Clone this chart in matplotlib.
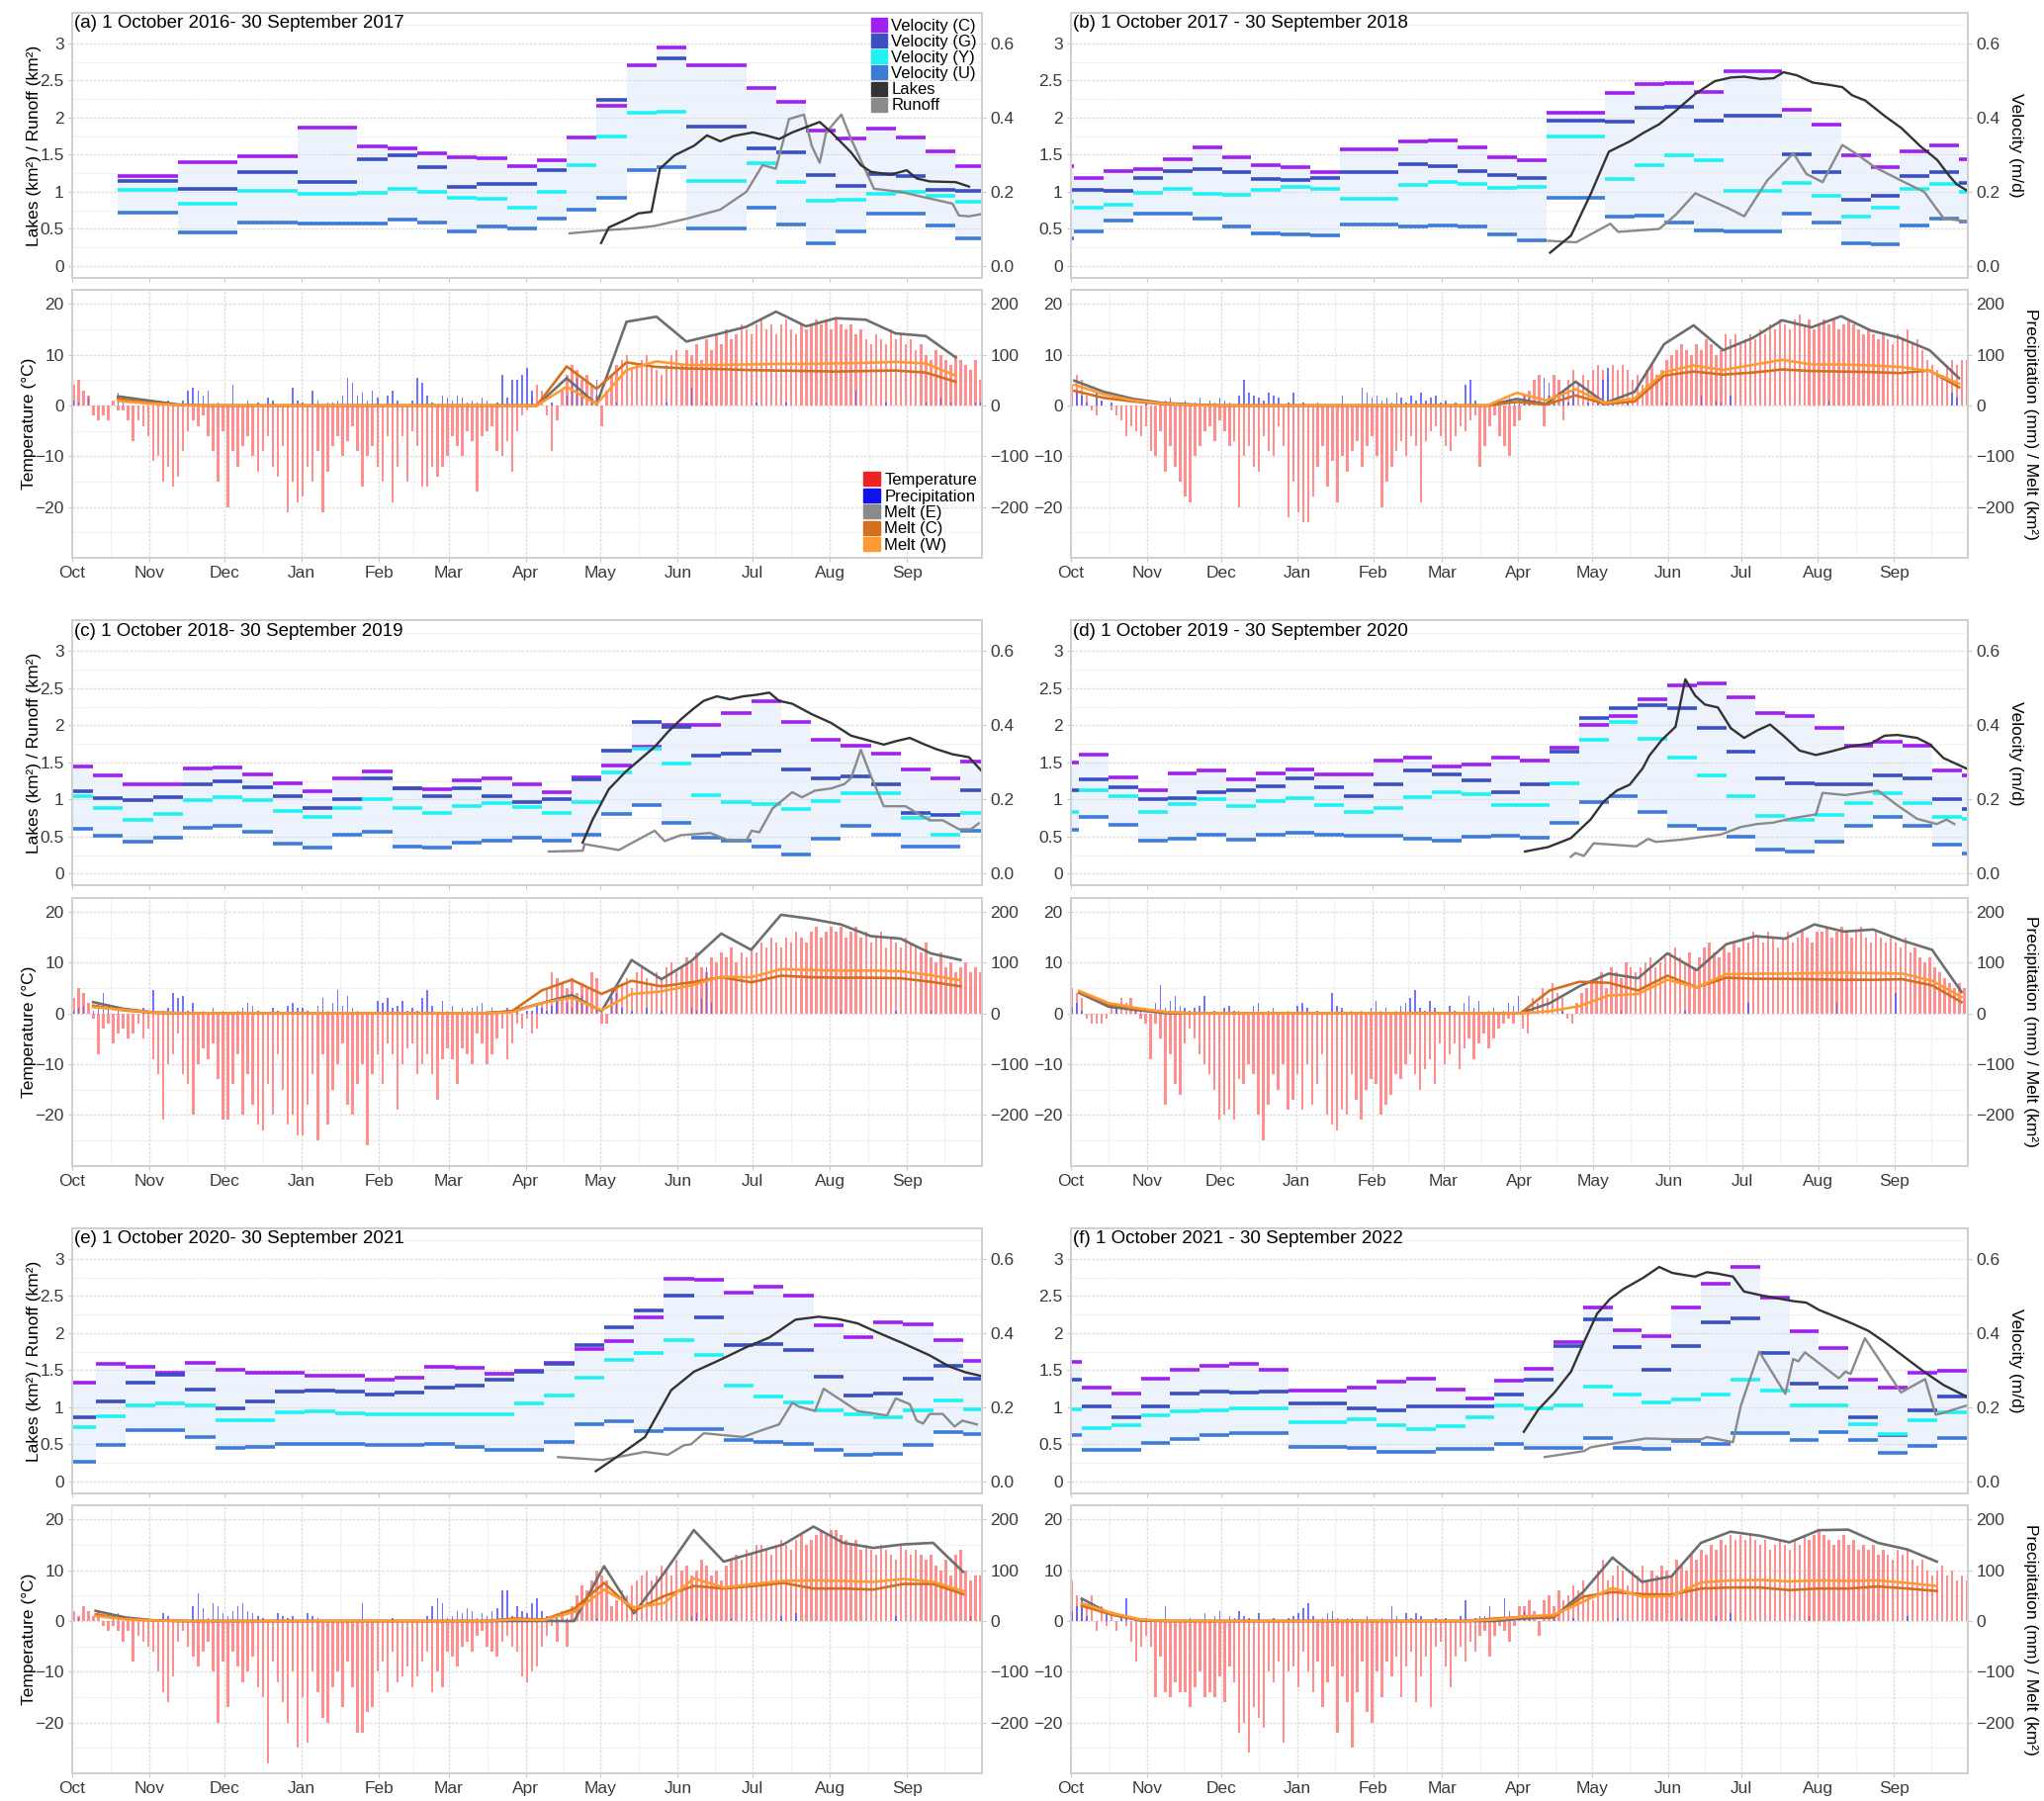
import numpy as np
import matplotlib.pyplot as plt
from matplotlib.patches import Patch

plt.rcParams['font.family'] = ['Liberation Sans', 'DejaVu Sans']

# ---------------------------------------------------------------- common
months = ["Oct", "Nov", "Dec", "Jan", "Feb", "Mar", "Apr", "May", "Jun", "Jul", "Aug", "Sep"]
month_len = [31, 30, 31, 31, 28, 31, 30, 31, 30, 31, 31, 30]
month_len_leap = [31, 30, 31, 31, 29, 31, 30, 31, 30, 31, 31, 30]

titles = ["(a) 1 October 2016- 30 September 2017",
          "(b) 1 October 2017 - 30 September 2018",
          "(c) 1 October 2018- 30 September 2019",
          "(d) 1 October 2019 - 30 September 2020",
          "(e) 1 October 2020- 30 September 2021",
          "(f) 1 October 2021 - 30 September 2022"]

# velocity (m/d) per 12-day Sentinel-1 pair, first slot starts at vstart (day since 1 Oct)
vstart = [18.4, -10.6, -3.6, -8.6, -2.6, -7.6]
# melt (km2) at 12-day grid points, first at mstart
mstart = [18.4, 1.4, 8.4, 3.4, 9.4, 4.4]

nan = np.nan

# ---------------------------------------------------------------- (a)
vel_c_a = [.242, .242, .280, .280, .296, .296, .372, .372, .322, .318, .304, .294, .290, .268, .286,
           .346, .432, .540, .588, .540, .540, .480, .442, .366, .344, .370, .346, .310, .268]
vel_g_a = [.230, .230, .208, .208, .254, .254, .226, .226, .288, .298, .266, .214, .220, .222, .258,
           nan, .448, nan, .560, .376, .376, .318, .306, .244, .216, .248, .242, .204, .202]
vel_y_a = [.206, .206, .168, .168, .202, .202, .194, .194, .198, .208, .200, .184, .182, .158, .200,
           .272, .348, .414, .416, .230, .230, .276, .226, .176, .178, .194, .200, .188, .172]
vel_u_a = [.144, .144, .090, .090, .116, .116, .114, .114, .114, .124, .116, .092, .106, .100, .128,
           .152, .184, .258, .266, .100, .100, .158, .112, .060, .094, .140, .142, .108, .074]
lakes_day_a = [212.2, 215.3, 223.2, 227.2, 232.4, 235.8, 241.6, 249.5, 254.7, 260, 265.2, 273.1, 278.4,
               283.6, 288.9, 299.9, 304.6, 312.5, 316.4, 320.4, 328.3, 334.8, 338.8, 344, 354.5, 359.8]
lakes_a = [0.31, 0.52, 0.64, 0.71, 0.73, 1.31, 1.49, 1.62, 1.76, 1.68, 1.75, 1.80, 1.76,
           1.71, 1.80, 1.94, 1.80, 1.53, 1.36, 1.27, 1.23, 1.29, 1.18, 1.14, 1.13, 1.07]
runoff_day_a = [199.6, 212.7, 225.8, 233.7, 246.8, 260, 270.5, 277, 282.3, 287.6, 293.6, 296.7,
                299.9, 302.5, 308.6, 312.5, 321.7, 332.2, 344, 353.2, 355.8, 359.8, 365]
runoff_a = [0.44, 0.48, 0.51, 0.54, 0.64, 0.76, 1.00, 1.36, 1.31, 1.98, 2.04, 1.62,
            1.39, 1.80, 2.04, 1.71, 1.04, 1.00, 0.91, 0.84, 0.68, 0.67, 0.70]
melt_e_a = [18, 10, 2, 0, 0, 0, 0, 0, 0, 0, 0, 0, 0, 0, 0, 54, 2, 165, 175, 126, 140, 155, 185, 156,
            172, 169, 142, 137, 95]
melt_c_a = [13, 6, 1, 0, 0, 0, 0, 0, 0, 0, 0, 0, 0, 0, 0, 77, 33, 85, 76, 73, 72, 70, 69, 68,
            67, 68, 69, 65, 47]
melt_w_a = [9, 4, 1, 0, 0, 0, 0, 0, 0, 0, 0, 0, 0, 0, 0, 37, 3, 70, 87, 80, 80, 81, 82, 82,
            83, 84, 86, 83, 59]
temp_a = """
4 5 3 2 -2 -3 -2 -3 1 -1 -1 -3 -7 -3 -4 -6
-11 -10 -15 -12 -16 -14 -9 -5 -3 -4 -2 -6 -9 -15 -5
-20 -9 -12 -8 -6 -10 -13 -9 -6 -12 -14 -8 -21 -15 -19
-18 -12 -15 -9 -21 -13 -8 -6 -10 -7 -4 -9 -16 -10 -8 -12
-15 -6 -19 -12 -6 -15 -5 -8 -16 -16 -12 -14 -12 -10
-6 -8 -10 -5 -7 -17 -6 -5 -4 -9 -10 -7 -13 -5 -2 -1
2 4 3 -2 -9 -3 3 6 8 7 5 6 4 2 -4
3 6 8 9 10 7 8 9 10 8 7 6 8 10 11
8 11 10 12 9 13 11 14 12 15 13 14 16 15 14 16
17 15 16 14 16 17 15 14 16 15 16 17 16 17 15
17 16 15 16 14 15 13 12 14 13 12 15 13 14 12 13
11 12 10 9 11 10 9 8 10 9 8 7 9 5
"""
precip_a = """
10 5 0 15 0 0 0 0 0 25 20 0 0 0 0 0
0 5 0 10 5 0 10 30 35 30 20 30 0 5 0
0 40 0 0 10 0 5 0 15 10 0 0 0 35 10
5 0 30 10 0 5 5 10 20 55 45 20 25 10 30 15
0 20 30 10 0 0 10 55 45 20 5 0 20 15
10 20 15 5 10 5 15 10 0 5 60 15 50 50 60 75
30 0 0 0 5 0 0 20 45 55 30 0 5 50 0
0 0 5 0 0 0 0 0 0 0 0 0 5 0 0
0 0 35 0 0 5 0 0 0 0 0 0 0 0 0 5
0 0 0 0 0 5 0 0 0 0 0 0 0 0 0
0 0 0 0 30 0 0 0 0 0 5 0 0 0 0 0
0 0 5 0 0 15 0 5 0 0 0 0 5 5
"""

# ---------------------------------------------------------------- (b)
vel_c_b = [.268, .238, .256, .262, .288, .320, .292, .272, .266, .254, .314, .314, .336, .338, .320, .292,
           .284, .414, .414, .466, .490, .494, .470, .526, .526, .420, .382, .298, .266, .310, .324, .288]
vel_g_b = [.204, .204, .202, .236, .256, .262, .252, .234, .232, .236, .254, .254, .274, .268, .256, .244,
           .238, .392, .392, .388, .426, .430, .392, .406, .406, .302, .254, .178, .190, .242, .254, .224]
vel_y_b = [.174, .156, .164, .198, .208, .194, .192, .204, .212, .208, .180, .180, .218, .226, .220, .210,
           .214, .348, .348, .234, .272, .298, .286, .202, .202, .224, .188, .134, .156, .208, .220, .200]
vel_u_b = [.074, .092, .122, .140, .142, .128, .106, .088, .084, .082, .112, .112, .106, .108, .106, .086,
           .070, .184, .184, .134, .136, .116, .096, .092, .092, .142, .116, .060, .058, .108, .128, .120]
lakes_day_b = [195, 203.5, 211.5, 218.9, 227.5, 232.8, 239.4, 246.1, 254.1, 262, 268.7, 274, 280.7, 286,
               290, 295.3, 302, 308.6, 313.9, 317.9, 323.2, 331.2, 337.9, 345.8, 352.5, 357.8, 360.5, 365]
lakes_b = [0.18, 0.41, 0.97, 1.54, 1.68, 1.79, 1.91, 2.09, 2.32, 2.49, 2.54, 2.55, 2.52, 2.53,
           2.61, 2.57, 2.47, 2.44, 2.41, 2.30, 2.23, 2.02, 1.86, 1.61, 1.43, 1.20, 1.10, 1.01]
runoff_day_b = [194.2, 205.6, 219.5, 222.7, 239.4, 246.1, 254.1, 267.4, 274, 283.3, 294, 299.3,
                305.9, 313.9, 319.2, 327.2, 337.9, 347.2, 355.2, 365]
runoff_b = [0.34, 0.32, 0.57, 0.46, 0.50, 0.69, 0.98, 0.78, 0.67, 1.15, 1.52, 1.24,
            1.13, 1.63, 1.52, 1.33, 1.15, 1.00, 0.64, 0.60]
melt_e_b = [49, 27, 13, 5, 2, 0, 0, 0, 0, 0, 0, 0, 0, 0, 0, 13, 3, 47, 5, 27, 121, 158, 109, 133,
            168, 154, 176, 148, 133, 109, 54]
melt_c_b = [29, 15, 8, 3, 1, 0, 0, 0, 0, 0, 0, 0, 0, 0, 0, 7, 2, 20, 3, 8, 59, 67, 61, 65,
            71, 68, 67, 66, 64, 69, 36]
melt_w_b = [41, 22, 10, 4, 1, 0, 0, 0, 0, 0, 0, 0, 0, 0, 0, 25, 10, 32, 5, 14, 66, 79, 70, 80,
            90, 81, 81, 79, 76, 68, 43]
temp_b = """
4 6 5 2 -1 -2 1 0 -1 -2 -3 -6 -4 -5 -6 -4
-9 -10 -5 -13 -8 -12 -15 -18 -19 -10 -8 -5 -4 -7 -3
-5 -8 -7 -20 -10 -8 -12 -13 -6 -9 -10 -4 -8 -22 -15
-21 -23 -23 -18 -12 -8 -16 -11 -19 -10 -13 -9 -7 -12 -8 -6
-10 -20 -15 -12 -9 -7 -10 -6 -8 -19 -7 -5 -4 -6
-8 -9 -6 -4 -5 -3 -2 -12 -8 -4 -2 -6 -8 -10 -4 -3
2 3 5 6 -4 2 6 5 -3 5 7 4 6 5 7
8 7 6 8 7 8 7 5 6 4 7 8 6 7 9
10 11 12 11 10 12 11 13 12 10 11 14 13 14 12 13
14 13 15 14 16 15 17 16 15 17 18 16 17 15 16
17 16 17 15 16 17 16 15 14 15 14 13 14 13 12 14
13 15 12 13 11 9 8 7 6 8 9 8 9 9
"""
precip_b = """
0 30 20 5 0 25 10 0 5 0 0 0 0 0 0 5
0 0 5 10 15 0 5 10 0 5 15 0 10 5 15
10 5 0 20 50 25 20 15 10 25 20 15 0 5 25
0 5 0 0 5 0 0 0 0 20 0 0 0 35 25 15
20 10 15 5 25 15 5 20 10 25 10 15 20 5
10 0 5 0 40 50 10 0 0 0 0 10 0 15 5 10
20 15 0 5 55 45 10 0 30 5 30 0 0 5 0
10 50 75 5 0 0 5 0 0 0 0 0 0 0 5
0 0 0 0 0 0 20 0 0 10 5 0 20 0 0 0
0 0 0 0 0 0 0 0 0 0 0 0 0 0 0
0 10 0 0 0 0 0 0 0 0 0 0 0 0 0 0
0 0 0 0 0 0 0 0 0 0 25 15 0 0
"""

# ---------------------------------------------------------------- (c)
vel_c_c = [.288, .266, .240, .242, .284, .286, .268, .244, .222, .258, .276, .230, .228, .252, .256, .240,
           .220, .260, .292, .342, .402, .402, .432, .464, .410, .362, .344, .324, .282, .258, .302]
vel_g_c = [.222, .204, .198, .206, .240, .248, .232, .210, .176, .200, .256, .230, .210, .230, .210, .192,
           .200, .254, .332, .410, .396, .318, .324, .332, .282, .256, .262, .240, .164, .158, .224]
vel_y_c = [.208, .178, .146, .160, .198, .206, .198, .168, .152, .176, .200, .176, .164, .182, .190, .180,
           .164, .192, .274, .336, .296, .212, .194, .188, .174, .196, .218, .218, .150, .106, .164]
vel_u_c = [.122, .102, .086, .098, .124, .130, .114, .080, .070, .104, .112, .074, .070, .084, .090, .098,
           .090, .106, .162, .184, .138, .096, .090, .074, .052, .094, .130, .106, .074, .074, .116]
lakes_day_c = [204.8, 208.8, 215.3, 221.9, 228.5, 233.7, 239, 244.2, 249.5, 253.4, 258.7, 263.9, 269.2,
               274.4, 279.7, 283.6, 288.9, 296.7, 304.6, 312.5, 319.1, 325.6, 330.9, 336.1, 341.4,
               346.6, 353.2, 359.8, 365]
lakes_c = [0.42, 0.73, 1.14, 1.37, 1.56, 1.71, 1.91, 2.08, 2.23, 2.33, 2.39, 2.35, 2.39,
           2.41, 2.44, 2.33, 2.29, 2.15, 2.03, 1.86, 1.80, 1.74, 1.79, 1.83, 1.75,
           1.68, 1.61, 1.57, 1.38]
runoff_day_c = [191.2, 204.8, 205.6, 219.3, 233.7, 237.7, 244.2, 256, 262.6, 270.5, 272.6, 275.7, 281,
                288.9, 292.8, 298, 304.6, 309.9, 312.5, 316.4, 320.4, 325.6, 334.3, 344, 349.3,
                355.8, 360.6, 363.7]
runoff_c = [0.30, 0.31, 0.40, 0.32, 0.58, 0.44, 0.52, 0.55, 0.46, 0.45, 0.58, 0.56, 0.88,
            1.10, 1.03, 1.12, 1.15, 1.21, 1.29, 1.67, 1.32, 0.91, 0.91, 0.72, 0.72,
            0.60, 0.60, 0.68]
melt_e_c = [22, 9, 2, 0, 0, 0, 0, 0, 0, 0, 0, 0, 0, 0, 4, 20, 36, 4, 105, 67, 103, 157, 125, 194,
            186, 175, 152, 147, 118, 105]
melt_c_c = [15, 6, 1, 0, 0, 0, 0, 0, 0, 0, 0, 0, 0, 0, 4, 45, 66, 38, 64, 53, 61, 71, 61, 74,
            71, 70, 70, 69, 62, 53]
melt_w_c = [12, 7, 2, 0, 0, 0, 0, 0, 0, 0, 0, 0, 0, 0, 2, 20, 31, 6, 38, 43, 55, 72, 71, 87,
            85, 84, 84, 83, 75, 65]
temp_c = """
3 5 4 2 -1 -8 -3 -2 -6 -4 -3 -5 -4 -2 -5 -3
-9 -12 -21 -10 -8 -4 -12 -14 -20 -10 -7 -9 -6 -13 -21
-21 -14 -8 -20 -12 -18 -22 -23 -14 -20 -8 -15 -22 -20 -24
-24 -18 -12 -25 -8 -22 -15 -10 -6 -18 -20 -14 -10 -26 -12 -8
-14 -6 -8 -19 -10 -7 -6 -12 -10 -8 -12 -17 -9 -7
-9 -14 -7 -8 -10 -4 -6 -10 -8 -5 -3 -9 -6 -2 -3 -1
-4 -3 2 5 8 7 6 5 7 4 6 5 8 7 -2
-2 3 5 6 7 5 8 9 7 6 8 7 9 10 8
9 11 10 12 9 8 11 10 12 11 13 10 12 11 13 12
14 13 15 14 13 15 14 16 15 14 16 17 15 16 17
16 17 15 16 17 15 16 14 15 16 13 15 14 13 15 14
13 12 14 11 10 12 9 10 8 9 10 8 9 8
"""
precip_c = """
5 10 15 0 5 20 40 10 0 5 0 0 0 0 10 0
45 0 5 10 40 30 35 5 20 0 5 0 10 0 5
0 0 5 10 20 15 5 0 0 10 5 0 15 20 10
10 5 0 15 30 5 20 45 15 35 10 5 0 0 0 25
20 30 10 15 25 5 10 5 30 45 15 0 25 5
15 0 10 5 10 15 20 5 10 0 5 10 0 5 0 5
5 20 10 5 15 30 0 20 10 25 35 15 0 10 5
0 50 40 10 0 5 0 0 10 0 0 5 0 0 0
0 0 10 5 30 90 20 0 5 0 0 0 0 0 0 0
0 0 0 0 0 0 0 0 0 0 0 0 0 0 0
0 5 0 0 0 0 0 0 0 0 0 0 5 0 0 0
0 0 0 5 0 0 0 0 0 0 0 0 0 0
"""

# ---------------------------------------------------------------- (d)
vel_c_d = [.300, .322, .260, .226, .270, .278, .254, .270, .282, .268, .268, .304, .312, .288, .294, .312,
           .304, .340, .400, .426, .470, .508, .512, .476, .432, .426, .392, .344, .356, .346, .278, .266]
vel_g_d = [.224, .254, .234, .200, .204, .220, .224, .236, .258, .232, .208, .240, .278, .268, .252, .220,
           .240, .330, .420, .446, .454, .446, .394, .330, .256, .244, .242, .242, .266, .258, .200, .174]
vel_y_d = [.166, .226, .208, .166, .188, .200, .182, .196, .204, .186, .166, .176, .206, .220, .214, .184,
           .186, .244, .360, .408, .364, .312, .264, .210, .156, .146, .158, .190, .216, .190, .152, .148]
vel_u_d = [.118, .154, .132, .088, .094, .104, .092, .106, .110, .104, .102, .102, .094, .090, .100, .102,
           .098, .136, .194, .208, .166, .128, .122, .100, .066, .060, .086, .128, .152, .128, .078, .054]
lakes_day_d = [185.3, 194.7, 204, 212, 217.3, 222.7, 228, 233.3, 236, 241.3, 246.7, 250.7, 254.7, 258.7,
               264, 269.3, 274.7, 280, 285.3, 290.7, 297.3, 304, 309.3, 317.3, 326.7, 332, 337.3,
               345.3, 350.7, 356, 365.9]
lakes_d = [0.30, 0.36, 0.48, 0.73, 0.97, 1.12, 1.20, 1.42, 1.59, 1.81, 1.98, 2.62, 2.40, 2.28,
           2.24, 1.96, 1.83, 1.93, 2.01, 1.86, 1.66, 1.60, 1.64, 1.71, 1.76, 1.86, 1.87,
           1.83, 1.74, 1.56, 1.41]
runoff_day_d = [204, 205.9, 209.3, 213.3, 230.7, 235.5, 238.7, 249.3, 265.3, 273.3, 280, 286.7, 294.7,
                304, 306.7, 316, 329.3, 337.3, 345.3, 353.3, 357.3, 360.5]
runoff_d = [0.23, 0.28, 0.24, 0.41, 0.37, 0.47, 0.43, 0.46, 0.53, 0.63, 0.67, 0.69, 0.75,
            0.80, 1.09, 1.06, 1.12, 0.92, 0.74, 0.67, 0.73, 0.67]
melt_e_d = [40, 13, 6, 0, 0, 0, 0, 0, 0, 0, 0, 0, 0, 0, 0, 0, 20, 53, 78, 69, 118, 85, 136, 152,
            147, 175, 161, 165, 143, 125, 42]
melt_c_d = [42, 18, 8, 2, 0, 0, 0, 0, 0, 0, 0, 0, 0, 0, 0, 0, 45, 62, 60, 45, 74, 51, 70, 68,
            68, 67, 66, 66, 67, 55, 22]
melt_w_d = [44, 20, 10, 2, 0, 0, 0, 0, 0, 0, 0, 0, 0, 0, 0, 0, 4, 14, 35, 38, 66, 51, 77, 78,
            78, 79, 80, 79, 78, 64, 32]
temp_d = """
5 4 3 -1 -2 -2 -2 -1 1 2 3 2 3 1 -1 -2
-9 -2 -5 -18 -8 -14 -16 -6 -3 -5 -8 -10 -12 -15 -21
-20 -19 -21 -13 -14 -10 -12 -20 -25 -18 -12 -15 -10 -19 -17
-12 -19 -10 -18 -14 -8 -20 -22 -23 -19 -20 -12 -17 -21 -15 -13
-14 -20 -18 -16 -12 -13 -10 -8 -12 -15 -11 -9 -14 -6
-10 -8 -6 -11 -7 -5 -9 -6 -4 -7 -5 -3 -2 -1 -2 0
-3 -4 3 2 5 3 6 4 3 -1 -2 2 4 5 6
7 8 5 9 8 7 10 9 8 9 10 11 9 10 11
12 13 11 10 12 9 11 13 14 12 11 13 12 14 13 15
14 16 15 14 16 15 13 15 16 14 15 16 15 14 16
16 17 15 16 17 16 15 16 17 15 14 16 15 14 15 14
13 15 12 13 11 10 11 9 8 7 6 5 6 5
"""
precip_d = """
10 20 5 0 0 0 0 0 0 15 0 0 0 10 5 0
0 20 55 10 25 35 15 10 5 10 15 35 0 5 0
10 15 5 5 0 0 15 20 0 5 10 0 0 5 0
15 20 10 0 5 0 0 40 15 10 0 5 0 5 0 10
25 5 10 0 5 15 20 30 45 10 5 25 10 0
0 15 5 0 20 35 10 25 0 5 10 0 5 20 15 35
5 10 0 5 0 0 0 0 5 0 0 0 0 0 0
0 0 0 0 0 5 0 0 0 0 0 0 0 0 0
0 0 0 5 0 0 0 0 0 0 0 0 0 0 0 0
20 0 0 0 0 0 0 0 0 0 0 0 0 0 0
0 0 0 20 0 0 0 0 0 0 0 0 0 0 0 40
0 0 0 0 0 0 0 0 0 0 0 0 0 0
"""

# ---------------------------------------------------------------- (e)
vel_c_e = [.266, .316, .308, .292, .320, .300, .292, .292, .286, .284, .274, .280, .308, .306, .290, .298,
           .320, .356, .378, .442, .546, .544, .510, .524, .502, .420, .390, .430, .424, .382, .324]
vel_g_e = [.172, .216, .266, .288, .248, .196, .216, .242, .244, .242, .234, .240, .254, .258, .274, .296,
           .316, .368, .416, .460, .500, .442, .368, .370, .354, .282, .232, .236, .278, .312, .276]
vel_y_e = [.146, .176, .204, .210, .204, .166, .164, .186, .188, .184, .180, .180, .180, .182, .182, .210,
           .232, .280, .328, .346, .380, .340, .258, .228, .212, .192, .182, .174, .192, .218, .194]
vel_u_e = [.052, .098, .138, .138, .120, .090, .094, .100, .102, .102, .098, .098, .100, .094, .086, .086,
           .106, .154, .162, .136, .140, .140, .112, .106, .100, .086, .072, .074, .098, .134, .128]
lakes_day_e = [210.1, 218, 229.8, 240.3, 249.5, 260, 270.5, 279.7, 290.2, 299.4, 307.2, 315.1, 323,
               333.5, 344, 351.9, 358.5, 365]
lakes_e = [0.14, 0.32, 0.60, 1.23, 1.48, 1.64, 1.81, 1.94, 2.18, 2.22, 2.19, 2.13, 2.01,
           1.86, 1.70, 1.55, 1.47, 1.42]
runoff_day_e = [194.9, 212.7, 229.8, 239, 245.5, 248.2, 253.4, 269.2, 275.7, 283.6, 288.9, 291.5, 298,
                301.5, 315.1, 326.9, 330.4, 336.1, 338.8, 341.4, 344, 349.3, 354, 357.1, 362.9]
runoff_e = [0.33, 0.29, 0.40, 0.36, 0.49, 0.50, 0.65, 0.60, 0.68, 0.77, 1.06, 1.01, 0.95,
            1.25, 0.95, 0.89, 1.12, 1.04, 0.82, 0.78, 0.91, 0.91, 0.74, 0.82, 0.77]
melt_e_e = [20, 7, 1, 0, 0, 0, 0, 0, 0, 0, 0, 0, 0, 0, 0, 0, 0, 108, 15, 94, 179, 117, 134, 151,
            186, 154, 144, 151, 154, 97]
melt_c_e = [13, 4, 1, 0, 0, 0, 0, 0, 0, 0, 0, 0, 0, 0, 5, 3, 24, 75, 20, 49, 69, 64, 69, 75,
            64, 64, 62, 73, 73, 53]
melt_w_e = [10, 3, 1, 0, 0, 0, 0, 0, 0, 0, 0, 0, 0, 0, 3, 2, 18, 62, 27, 35, 84, 66, 73, 79,
            80, 79, 77, 83, 77, 59]
temp_e = """
2 1 3 2 1 2 -1 -2 -1 -2 -4 -2 -8 -3 -4 -5
-6 -10 -14 -16 -11 -4 -2 -5 -7 -9 -6 -4 -10 -20 -8
-17 -6 -9 -12 -10 -7 -13 -15 -28 -8 -12 -16 -20 -10 -25
-15 -24 -10 -14 -19 -20 -13 -10 -17 -8 -13 -22 -22 -18 -17 -10
-8 -14 -6 -12 -11 -9 -13 -11 -8 -6 -14 -10 -13 -6
-7 -9 -5 -4 -6 -3 -2 -5 -6 -7 -4 -3 -5 -6 -11 -12
-10 -9 -5 -3 -1 -4 2 -5 3 5 7 6 8 10 9
8 3 4 6 5 7 8 9 10 8 9 11 10 9 12
10 11 9 10 12 11 9 10 8 11 12 13 12 14 13 15
15 14 13 15 16 15 14 16 17 15 16 17 18 17 18
18 17 16 15 16 14 15 14 13 15 14 13 12 15 14 13
14 13 12 13 11 10 12 9 13 14 10 8 9 9
"""
precip_e = """
0 5 0 0 0 0 0 0 10 15 0 0 0 0 0 0
0 0 15 10 0 0 0 0 30 55 25 5 35 30 15
10 20 30 35 20 15 10 5 0 0 15 10 5 10 0
0 15 10 5 0 0 0 0 0 0 0 0 35 0 0 0
0 0 5 0 0 0 0 0 0 10 30 45 35 5
10 20 15 25 20 5 15 10 20 25 60 60 10 30 20 15
35 45 20 10 5 10 0 5 0 0 0 0 0 5 0
0 0 0 0 0 0 0 0 0 0 0 0 0 0 0
0 0 10 15 0 5 0 0 0 0 5 0 0 0 0 0
0 0 0 0 10 0 0 15 0 0 0 0 0 0 0
0 0 0 0 0 0 0 0 0 0 0 0 10 0 0 0
0 0 0 0 0 0 0 0 0 0 0 10 0 0
"""

# ---------------------------------------------------------------- (f)
vel_c_f = [.322, .254, .236, .276, .300, .312, .316, .302, .244, .244, .252, .268, .276, .248, .224, .272,
           .304, .376, .468, .408, .392, .468, .532, .578, .496, .406, .360, .274, .254, .294, .298]
vel_g_f = [.274, .202, .172, .202, .236, .242, .240, .242, .210, .210, .198, .192, .202, .202, .202, .234,
           .274, .364, .436, .362, .302, .366, .430, .440, .346, .264, .252, .172, .126, .192, .228]
vel_y_f = [.194, .144, .152, .178, .188, .192, .196, .198, .160, .160, .168, .152, .140, .148, .174, .204,
           .196, .206, .256, .234, .212, .222, .234, .274, .244, .204, .204, .154, .128, .164, .186]
vel_u_f = [.126, .086, .084, .104, .114, .124, .130, .130, .094, .094, .090, .080, .080, .088, .088, .102,
           .090, .090, .118, .090, .088, .110, .102, .130, .130, .112, .134, .112, .078, .096, .118]
lakes_day_f = [184.3, 190.2, 196.8, 203.5, 208.8, 214.1, 219.4, 224.7, 232.7, 239.4, 244.7, 250, 254,
               258.8, 263.3, 269.4, 273.9, 280.6, 287.2, 293.9, 299.2, 304.5, 311.2, 317.8, 324.5,
               331.1, 339.1, 347.1, 355.1, 364.1]
lakes_f = [0.67, 0.97, 1.20, 1.48, 1.88, 2.26, 2.46, 2.59, 2.74, 2.89, 2.81, 2.78, 2.76,
           2.82, 2.80, 2.76, 2.56, 2.51, 2.47, 2.43, 2.41, 2.31, 2.22, 2.13, 2.03,
           1.88, 1.68, 1.48, 1.30, 1.15]
runoff_day_f = [192.8, 208.8, 211.4, 222.1, 234, 246, 256.6, 258.8, 269.4, 272.6, 280.1, 290.7, 293.9,
                296, 298.7, 312.5, 315.2, 317.3, 323.1, 337.8, 347.6, 351.9, 354.5, 364.1]
runoff_f = [0.33, 0.41, 0.46, 0.52, 0.58, 0.57, 0.57, 0.60, 0.53, 1.02, 1.75, 1.18, 1.65,
            1.62, 1.74, 1.39, 1.48, 1.45, 1.93, 1.20, 1.38, 0.90, 0.92, 1.02]
melt_e_f = [44, 13, 1, 0, 0, 0, 0, 0, 0, 0, 0, 0, 0, 0, 0, 5, 7, 57, 125, 77, 88, 154, 176, 168,
            155, 179, 180, 154, 141, 117]
melt_c_f = [30, 13, 2, 0, 0, 0, 0, 0, 0, 0, 0, 0, 0, 0, 5, 8, 8, 48, 57, 53, 52, 64, 66, 66,
            61, 64, 64, 68, 64, 59]
melt_w_f = [35, 16, 3, 0, 0, 0, 0, 0, 0, 0, 0, 0, 0, 0, 3, 9, 12, 38, 65, 48, 49, 76, 80, 81,
            78, 80, 79, 80, 75, 69]
temp_f = """
8 5 4 3 5 -2 3 -1 2 -2 1 -1 -4 -8 -5 -3
-5 -15 -7 -14 -15 -12 -14 -14 -17 -13 -10 -15 -14 -15 -11
-16 -9 -12 -22 -20 -26 -17 -19 -21 -10 -12 -8 -24 -10 -9
-13 -6 -10 -14 -8 -17 -12 -9 -22 -11 -16 -25 -14 -8 -18 -20
-10 -15 -8 -11 -7 -15 -9 -6 -16 -11 -7 -17 -5 -4
-9 -13 -7 -5 -8 -4 -6 -3 -2 -7 -3 -1 -2 -4 -1 3
3 4 2 -3 4 5 3 6 4 5 7 6 8 5 4
10 12 8 9 11 10 7 10 9 11 8 10 9 11 10
9 12 11 10 13 12 14 13 15 14 16 15 17 16 17 16
17 16 15 16 14 15 16 15 14 16 15 17 16 17 18
17 16 15 16 17 15 16 14 15 14 15 13 14 13 12 14
13 14 12 11 12 10 9 10 11 9 10 8 9 8
"""
precip_f = """
20 30 45 10 0 0 0 20 0 0 5 45 0 0 0 5
0 0 0 30 0 0 0 0 5 0 0 15 0 10 20
0 10 5 20 10 5 0 15 0 0 5 0 0 5 10
15 25 35 10 0 5 15 20 5 0 5 5 0 0 10 0
0 5 0 30 10 0 15 5 15 10 0 0 5 0
5 0 0 10 40 0 5 10 10 30 0 5 45 20 5 0
20 5 0 0 0 0 5 0 0 0 5 0 0 0 0
0 0 0 0 5 0 0 0 0 0 0 0 0 0 0
0 0 5 0 0 0 0 0 0 10 0 0 15 0 0 0
0 0 0 0 0 0 0 0 0 0 0 0 10 0 0
0 0 0 0 0 0 0 0 0 0 0 0 0 0 0 0
0 10 0 0 0 0 0 0 0 0 0 0 0 0
"""

# ---------------------------------------------------------------- style
C_VC, C_VG, C_VY, C_VU = "#a020f0", "#3a4fc1", "#1ff2f2", "#3d7bd8"
C_LAKE, C_RUN = "#333333", "#8a8a8a"
C_BAND = "#edf3fd"
C_TEMP, C_PREC = "#ff8f8f", "#5a5aff"
C_ME, C_MC, C_MW = "#6e6e6e", "#d2701e", "#ff9a33"
GRID_MAJ, GRID_MIN = "#dedede", "#ececec"
SPINE = "#d0d0d0"
TXT = "#3a3a3a"

panels = [
    dict(vc=vel_c_a, vg=vel_g_a, vy=vel_y_a, vu=vel_u_a, ld=lakes_day_a, lk=lakes_a, rd=runoff_day_a,
         ro=runoff_a, me=melt_e_a, mc=melt_c_a, mw=melt_w_a, t=temp_a, p=precip_a, leap=False),
    dict(vc=vel_c_b, vg=vel_g_b, vy=vel_y_b, vu=vel_u_b, ld=lakes_day_b, lk=lakes_b, rd=runoff_day_b,
         ro=runoff_b, me=melt_e_b, mc=melt_c_b, mw=melt_w_b, t=temp_b, p=precip_b, leap=False),
    dict(vc=vel_c_c, vg=vel_g_c, vy=vel_y_c, vu=vel_u_c, ld=lakes_day_c, lk=lakes_c, rd=runoff_day_c,
         ro=runoff_c, me=melt_e_c, mc=melt_c_c, mw=melt_w_c, t=temp_c, p=precip_c, leap=False),
    dict(vc=vel_c_d, vg=vel_g_d, vy=vel_y_d, vu=vel_u_d, ld=lakes_day_d, lk=lakes_d, rd=runoff_day_d,
         ro=runoff_d, me=melt_e_d, mc=melt_c_d, mw=melt_w_d, t=temp_d, p=precip_d, leap=True),
    dict(vc=vel_c_e, vg=vel_g_e, vy=vel_y_e, vu=vel_u_e, ld=lakes_day_e, lk=lakes_e, rd=runoff_day_e,
         ro=runoff_e, me=melt_e_e, mc=melt_c_e, mw=melt_w_e, t=temp_e, p=precip_e, leap=False),
    dict(vc=vel_c_f, vg=vel_g_f, vy=vel_y_f, vu=vel_u_f, ld=lakes_day_f, lk=lakes_f, rd=runoff_day_f,
         ro=runoff_f, me=melt_e_f, mc=melt_c_f, mw=melt_w_f, t=temp_f, p=precip_f, leap=False),
]

W, H = 2067, 1821
fig = plt.figure(figsize=(W / 100, H / 100), dpi=100)


def rect(x, top, w, h):
    return [x / W, 1 - (top + h) / H, w / W, h / H]


def style(ax, xmax, leap, labels):
    lens = month_len_leap if leap else month_len
    starts = np.concatenate([[0], np.cumsum(lens)[:-1]])
    ax.set_xlim(0, xmax)
    ax.set_xticks(starts)
    ax.set_xticks(starts + np.array(lens) / 2, minor=True)
    ax.set_xticklabels(months if labels else [])
    for s in ax.spines.values():
        s.set_color(SPINE)
        s.set_linewidth(1.3)
    ax.tick_params(which="both", length=3, color="#c8c8c8", labelcolor=TXT, labelsize=12.5, pad=3)
    ax.tick_params(which="minor", length=0)


for i, p in enumerate(panels):
    r, c = divmod(i, 2)
    x0 = [73, 1083][c]
    w = [920, 907][c]
    top = 13 + 614.5 * r
    xmax = 366 if p["leap"] else 365

    # ---------------- upper panel: lakes / runoff (left), velocity (right)
    ax = fig.add_axes(rect(x0, top, w, 268))
    axv = ax.twinx()
    ax.set_zorder(axv.get_zorder() + 1)
    ax.patch.set_visible(False)

    vals = np.array([p["vc"], p["vg"], p["vy"], p["vu"]], dtype=float)
    st = vstart[i] + 12 * np.arange(vals.shape[1])
    lo = np.nanmin(vals, axis=0)
    hi = np.nanmax(vals, axis=0)
    bx = np.column_stack([st, st + 12]).ravel()
    axv.fill_between(bx, np.repeat(lo, 2), np.repeat(hi, 2), color=C_BAND, lw=0, zorder=0.5)
    # grid lines (in lake units) drawn between the band and the velocity marks
    for yy in np.arange(0, 3.41, 0.25):
        major = abs(yy * 2 - round(yy * 2)) < 1e-6
        axv.axhline(yy / 5, color=GRID_MAJ if major else GRID_MIN, lw=1.0 if major else 0.9,
                    ls=(0, (2, 1)), zorder=0.8)
    for v, col in zip(vals, [C_VC, C_VG, C_VY, C_VU]):
        m = ~np.isnan(v)
        axv.hlines(v[m], st[m], st[m] + 12, colors=col, lw=2.6, zorder=2)

    ax.plot(p["rd"], p["ro"], color=C_RUN, lw=1.7)
    ax.plot(p["ld"], p["lk"], color=C_LAKE, lw=1.7)

    ax.set_ylim(-0.16, 3.41)
    axv.set_ylim(-0.032, 0.682)
    ax.set_yticks(np.arange(0, 3.01, 0.5))
    ax.set_yticklabels(["0", "0.5", "1", "1.5", "2", "2.5", "3"])
    ax.set_yticks(np.arange(0.25, 3.4, 0.5), minor=True)
    axv.set_yticks([0, 0.2, 0.4, 0.6])
    axv.set_yticklabels(["0.0", "0.2", "0.4", "0.6"])
    for a in (ax, axv):
        style(a, xmax, p["leap"], False)
    axv.grid(axis="x", which="major", color=GRID_MAJ, lw=1.0, ls=(0, (2, 1)), zorder=0.8)
    axv.grid(axis="x", which="minor", color=GRID_MIN, lw=0.9, ls=(0, (2, 1)), zorder=0.8)
    ax.text(0.002, 0.992, titles[i], transform=ax.transAxes, ha="left", va="top", fontsize=13.5,
            color="black")

    # ---------------- lower panel: temperature (left), precipitation / melt (right)
    axb = fig.add_axes(rect(x0, top + 280, w, 271))
    axp = axb.twinx()
    tv = np.array(p["t"].split(), dtype=float)
    pv = np.array(p["p"].split(), dtype=float)
    td = 2 * np.arange(len(tv)) + 0.5
    pd_ = 2 * np.arange(len(pv)) + 0.5
    axb.set_axisbelow(True)
    axb.bar(td, tv, width=1.0, color=C_TEMP, lw=0)
    axp.bar(pd_[pv > 0], pv[pv > 0], width=0.6, color=C_PREC, lw=0, alpha=0.85)
    md = mstart[i] + 12 * np.arange(len(p["me"]))
    axp.plot(md, p["me"], color=C_ME, lw=1.9)
    axp.plot(md, p["mc"], color=C_MC, lw=1.9)
    axp.plot(md, p["mw"], color=C_MW, lw=1.9)

    axb.set_ylim(-30, 22.8)
    axp.set_ylim(-300, 228)
    axb.set_yticks([-20, -10, 0, 10, 20])
    axb.set_yticks([-25, -15, -5, 5, 15], minor=True)
    axp.set_yticks([-200, -100, 0, 100, 200])
    for a in (axb, axp):
        style(a, xmax, p["leap"], True)
    axb.grid(which="major", color=GRID_MAJ, lw=1.0, ls=(0, (2, 1)))
    axb.grid(which="minor", color=GRID_MIN, lw=0.9, ls=(0, (2, 1)))

    if c == 0:
        ax.set_ylabel("Lakes (km²) / Runoff (km²)", fontsize=12.5, labelpad=-1)
        axb.set_ylabel("Temperature (°C)", fontsize=12.5, labelpad=-1)
    else:
        axv.set_ylabel("Velocity (m/d)", fontsize=12.5, rotation=270, va="bottom", labelpad=6)
        axp.set_ylabel("Precipitation (mm) / Melt (km²)", fontsize=12.5, rotation=270, va="bottom",
                       labelpad=6)

    if i == 0:
        h1 = [Patch(color=C_VC), Patch(color=C_VG), Patch(color=C_VY), Patch(color=C_VU),
              Patch(color=C_LAKE), Patch(color=C_RUN)]
        l1 = ["Velocity (C)", "Velocity (G)", "Velocity (Y)", "Velocity (U)", "Lakes", "Runoff"]
        leg = ax.legend(h1, l1, loc="upper right", frameon=False, fontsize=12, handlelength=1.0,
                        handleheight=0.9, handletextpad=0.25, labelspacing=0.03, borderpad=0.1,
                        borderaxespad=0.2)
        leg.set_zorder(20)
        h2 = [Patch(color="#ee2222"), Patch(color="#1111ee"), Patch(color="#8a8a8a"),
              Patch(color=C_MC), Patch(color=C_MW)]
        l2 = ["Temperature", "Precipitation", "Melt (E)", "Melt (C)", "Melt (W)"]
        axp.legend(h2, l2, loc="lower right", frameon=False, fontsize=12, handlelength=1.0,
                   handleheight=0.9, handletextpad=0.25, labelspacing=0.05, borderpad=0.1,
                   borderaxespad=0.2)

fig.savefig("out.png", dpi=100)
